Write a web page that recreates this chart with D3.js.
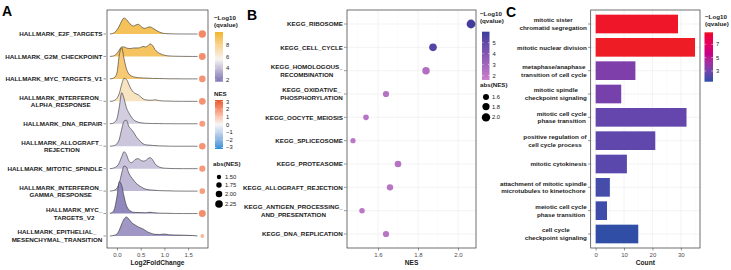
<!DOCTYPE html>
<html>
<head>
<meta charset="utf-8">
<script src="https://cdn.jsdelivr.net/npm/d3@7"></script>
<style>
body { margin: 0; background: #fff; }
svg { font-family: "Liberation Sans", Arial, sans-serif; }
.ylab { font-size: 6.25px; font-weight: bold; fill: #1a1a1a; }
.tick text { font-size: 6px; fill: #4d4d4d; }
.axt { font-size: 6.6px; font-weight: bold; fill: #1a1a1a; }
.lgt { font-size: 6.2px; font-weight: bold; fill: #1a1a1a; }
.lgl { font-size: 5.8px; fill: #1a1a1a; }
.pl { font-size: 14px; font-weight: bold; fill: #000; }
</style>
</head>
<body>
<div id="chart"></div>
<script>
// ---- panel A : hallmark ridges ----
const hallmarkTerms = ["HALLMARK_E2F_TARGETS", "HALLMARK_G2M_CHECKPOINT", "HALLMARK_MYC_TARGETS_V1",
  "HALLMARK_INTERFERON_\nALPHA_RESPONSE", "HALLMARK_DNA_REPAIR", "HALLMARK_ALLOGRAFT_\nREJECTION",
  "HALLMARK_MITOTIC_SPINDLE", "HALLMARK_INTERFERON_\nGAMMA_RESPONSE", "HALLMARK_MYC_\nTARGETS_V2",
  "HALLMARK_EPITHELIAL_\nMESENCHYMAL_TRANSITION"];
const ridgeX = [-0.15,-0.1,-0.05,0,0.05,0.1,0.15,0.2,0.25,0.3,0.35,0.4,0.45,0.5,0.55,0.6,0.65,0.7,0.75,0.8,0.9,1.0,1.1,1.2,1.4,1.6,1.7];
const densE2F = [0,0.04,0.19,0.5,1,1.63,2,1.81,1.44,1.13,1,1.13,1.21,1,0.75,0.71,0.85,0.88,0.75,0.56,0.23,0.06,0.03,0.01,0,0,0];
const densG2M = [0,0.03,0.13,0.38,0.81,1.19,1.19,1.06,1,1,1.06,1.06,1.06,1.13,1.25,1.19,1.31,1.56,1.38,0.88,0.38,0.15,0.06,0.03,0.01,0,0];
const densMycV1 = [0,0.04,0.19,0.75,3,3.88,2.5,1.25,0.63,0.38,0.25,0.19,0.15,0.13,0.11,0.1,0.09,0.08,0.06,0.06,0.04,0.03,0.01,0.01,0,0,0];
const densIfnA = [0,0.03,0.13,0.38,1,2.13,2.88,2.75,2.13,1.5,1.13,0.94,0.81,0.56,0.31,0.19,0.15,0.13,0.15,0.19,0.08,0.04,0.03,0.01,0,0,0];
const densDna = [0,0.04,0.19,0.63,2.13,3.88,3.13,2,1.38,0.88,0.5,0.31,0.19,0.13,0.09,0.06,0.05,0.04,0.03,0.03,0.02,0.01,0.01,0,0,0,0];
const densAllo = [0,0.03,0.1,0.31,0.88,2.13,3.13,3.25,2.5,2.13,1.75,1.25,0.88,0.56,0.31,0.19,0.15,0.13,0.1,0.08,0.04,0.03,0.01,0,0,0,0];
const densSpindle = [0,0.03,0.13,0.31,0.75,1.5,2.13,1.75,1,0.75,0.94,1.19,1.25,1.06,0.94,1,1.25,1.38,1.13,0.63,0.19,0.06,0.03,0.01,0,0,0];
const densIfnG = [0,0.03,0.13,0.38,1,2.25,3.13,3,2.25,1.75,1.38,1,0.75,0.56,0.38,0.25,0.19,0.15,0.13,0.1,0.06,0.04,0.03,0.01,0,0,0];
const densMycV2 = [0.03,0.13,0.63,2.13,4,3.5,2.13,1,0.5,0.25,0.16,0.13,0.13,0.13,0.11,0.1,0.13,0.16,0.13,0.09,0.05,0.04,0.03,0.01,0,0,0];
const densEmt = [0,0.03,0.1,0.25,0.75,1.5,2.13,2.38,2.13,1.75,1.5,1.31,1.13,1,0.88,0.69,0.5,0.38,0.28,0.21,0.19,0.25,0.15,0.13,0.1,0.06,0];
const ridgeDensity = [densE2F, densG2M, densMycV1, densIfnA, densDna, densAllo, densSpindle, densIfnG, densMycV2, densEmt];
const qA = [9.3, 9.1, 8.7, 6.7, 4.4, 4.2, 4.1, 3.8, 2.3, 2.8];
const nesA = [2.2, 2.1, 2.0, 2.05, 1.85, 2.0, 1.9, 1.8, 2.1, 1.35];
const nesDotX = 1.8;
const ticksA = [0, 0.5, 1, 1.5];

// ---- panel B : KEGG dots ----
const keggTerms = ["KEGG_RIBOSOME", "KEGG_CELL_CYCLE", "KEGG_HOMOLOGOUS_\nRECOMBINATION",
  "KEGG_OXIDATIVE_\nPHOSPHORYLATION", "KEGG_OOCYTE_MEIOSIS", "KEGG_SPLICEOSOME", "KEGG_PROTEASOME",
  "KEGG_ALLOGRAFT_REJECTION", "KEGG_ANTIGEN_PROCESSING_\nAND_PRESENTATION", "KEGG_DNA_REPLICATION"];
const nesB = [2.065, 1.875, 1.84, 1.64, 1.54, 1.475, 1.70, 1.66, 1.52, 1.64];
const qB = [5.8, 5.3, 2.5, 2.3, 2.2, 2.1, 2.3, 2.2, 2.1, 2.2];
const ticksB = [1.6, 1.8, 2.0];

// ---- panel C : GO bars ----
const goTerms = ["mitotic sister\nchromatid segregation", "mitotic nuclear division",
  "metaphase/anaphase\ntransition of cell cycle", "mitotic spindle\ncheckpoint signaling",
  "mitotic cell cycle\nphase transition", "positive regulation of\ncell cycle process",
  "mitotic cytokinesis", "attachment of mitotic spindle\nmicrotubules to kinetochore",
  "meiotic cell cycle\nphase transition", "cell cycle\ncheckpoint signaling"];
const goCount = [29, 35, 14, 9, 32, 21, 11, 5, 4, 15];
const qC = [8.7, 8.8, 3.3, 3.1, 2.6, 2.5, 2.4, 1.9, 1.8, 1.5];
const ticksC = [0, 10, 20, 30];

const width = 731, height = 270;
const svg = d3.select("#chart").append("svg").attr("width", width).attr("height", height);
const plotTop = 10, plotBottom = 248;

// colour / size scales
const colA = d3.scaleLinear().domain([1.7, 5.5, 10.2]).range(["#7d74b3", "#f6f4f2", "#f0b62a"]).interpolate(d3.interpolateLab);
const colNes = d3.scaleLinear().domain([-3.2, 0, 3.2]).range(["#2c8fd6", "#f7f7f7", "#e5532a"]).interpolate(d3.interpolateLab);
const sizeA = d3.scaleLinear().domain([1.5, 2.25]).range([2.2, 3.8]);
const colB = d3.scaleLinear().domain([1.6, 6.0]).range(["#c97fcb", "#3a3c9c"]).interpolate(d3.interpolateHcl);
const sizeB = d3.scaleLinear().domain([1.6, 2.0]).range([3, 4.2]);
const colC = d3.scaleLinear().domain([1.4, 8.8]).range(["#2b4ea6", "#ee1c24"]).interpolate(d3.interpolateHcl);

function yLabels(g, scale, terms, xRight) {
  terms.forEach(term => {
    const lines = term.split("\n");
    const t = g.append("text").attr("class", "ylab").attr("text-anchor", "middle");
    lines.forEach((ln, i) => t.append("tspan").attr("x", 0)
      .attr("y", (i - (lines.length - 1) / 2) * 7.6 + 2.2).text(ln));
    const w = t.node().getBBox().width;
    t.attr("transform", `translate(${xRight - w / 2},${scale(term)})`);
    g.append("line").attr("x1", xRight + 1).attr("x2", xRight + 3.5)
      .attr("y1", scale(term)).attr("y2", scale(term)).attr("stroke", "#333").attr("stroke-width", 0.5);
  });
}

function xAxis(scale, ticks, fmt, title) {
  const g = svg.append("g").attr("transform", `translate(0,${plotBottom})`)
    .call(d3.axisBottom(scale).tickValues(ticks).tickFormat(fmt).tickSize(2.5).tickPadding(2));
  g.select(".domain").remove();
  g.selectAll(".tick line").attr("stroke", "#333").attr("stroke-width", 0.5);
  const r = scale.range();
  svg.append("text").attr("class", "axt").attr("x", (r[0] + r[1]) / 2).attr("y", 265)
    .attr("text-anchor", "middle").text(title);
}

function box(scale) {
  const r = scale.range();
  svg.append("rect").attr("x", r[0]).attr("y", plotTop).attr("width", r[1] - r[0]).attr("height", plotBottom - plotTop)
    .attr("fill", "none").attr("stroke", "#333").attr("stroke-width", 0.7);
}

function grid(scale, major, minor, yScale, terms) {
  const r = scale.range();
  const g = svg.append("g");
  minor.forEach(v => g.append("line").attr("x1", scale(v)).attr("x2", scale(v)).attr("y1", plotTop).attr("y2", plotBottom)
    .attr("stroke", "#f2f2f2").attr("stroke-width", 0.4));
  major.forEach(v => g.append("line").attr("x1", scale(v)).attr("x2", scale(v)).attr("y1", plotTop).attr("y2", plotBottom)
    .attr("stroke", "#ebebeb").attr("stroke-width", 0.6));
  terms.forEach(t => g.append("line").attr("x1", r[0]).attr("x2", r[1]).attr("y1", yScale(t)).attr("y2", yScale(t))
    .attr("stroke", "#ebebeb").attr("stroke-width", 0.6));
}

function colorbar(x, y0, y1, w, scale, domain, ticks, id) {
  const grad = svg.append("defs").append("linearGradient").attr("id", id)
    .attr("x1", 0).attr("y1", 1).attr("x2", 0).attr("y2", 0);
  d3.range(0, 1.001, 0.05).forEach(t => grad.append("stop").attr("offset", t)
    .attr("stop-color", scale(domain[0] + t * (domain[1] - domain[0]))));
  svg.append("rect").attr("x", x).attr("y", y0).attr("width", w).attr("height", y1 - y0).attr("fill", `url(#${id})`);
  const pos = d3.scaleLinear().domain(domain).range([y1, y0]);
  ticks.forEach(v => {
    svg.append("line").attr("x1", x).attr("x2", x + w * 0.2).attr("y1", pos(v)).attr("y2", pos(v)).attr("stroke", "#fff").attr("stroke-width", 0.5);
    svg.append("line").attr("x1", x + w * 0.8).attr("x2", x + w).attr("y1", pos(v)).attr("y2", pos(v)).attr("stroke", "#fff").attr("stroke-width", 0.5);
    svg.append("text").attr("class", "lgl").attr("x", x + w + 3).attr("y", pos(v) + 2).text(String(v).replace("-", "\u2212"));
  });
}

function title2(x, y, l1, l2) {
  svg.append("text").attr("class", "lgt").attr("x", x).attr("y", y).text(l1);
  if (l2) svg.append("text").attr("class", "lgt").attr("x", x).attr("y", y + 7).text(l2);
}

function sizeLegend(x, y, vals, scale, fill, lx, fmt) {
  let cy = y;
  vals.forEach((v, i) => {
    if (i > 0) cy += scale(vals[i - 1]) + scale(v) + 3;
    svg.append("circle").attr("cx", x).attr("cy", cy).attr("r", scale(v)).attr("fill", fill);
    svg.append("text").attr("class", "lgl").attr("x", lx).attr("y", cy + 2).text(d3.format(fmt)(v));
  });
}

// ================= Panel A =================
const xA = d3.scaleLinear().domain([-0.21, 1.92]).range([107, 208]);
const yA = d3.scalePoint().domain(hallmarkTerms).range([34, 236]);
const hA = d3.scaleLinear().domain([0, 1]).range([0, 8]);

hallmarkTerms.forEach((term, i) => {
  const base = yA(term);
  const pts = ridgeX.map((x, j) => [x, ridgeDensity[i][j]]);
  const area = d3.area().x(d => xA(d[0])).y0(base).y1(d => base - hA(d[1])).curve(d3.curveMonotoneX);
  const line = d3.line().x(d => xA(d[0])).y(d => base - hA(d[1])).curve(d3.curveMonotoneX);
  svg.append("path").attr("d", area(pts)).attr("fill", colA(qA[i]));
  svg.append("path").attr("d", line(pts)).attr("fill", "none").attr("stroke", "#2b2b2b").attr("stroke-width", 0.6);
});
hallmarkTerms.forEach((term, i) => {
  svg.append("circle").attr("cx", xA(nesDotX)).attr("cy", yA(term)).attr("r", sizeA(nesA[i])).attr("fill", colNes(nesA[i]));
});
box(xA);
yLabels(svg.append("g"), yA, hallmarkTerms, 102.5);
xAxis(xA, ticksA, d3.format(".1f"), "Log2FoldChange");

title2(214, 20, "\u2212Log10", "(qvalue)");
colorbar(215, 32, 81.7, 8, colA, [1.7, 10.2], [2, 4, 6, 8], "gA");
title2(214, 96, "NES");
colorbar(215, 100, 149, 8, colNes, [-3.2, 3.2], [3, 2, 1, 0, -1, -2, -3], "gN");
title2(213, 166, "abs(NES)");
sizeLegend(219, 177, [1.5, 1.75, 2.0, 2.25], sizeA, "#000", 225, ".2f");

// ================= Panel B =================
const xB = d3.scaleLinear().domain([1.445, 2.09]).range([347, 476]);
const yB = d3.scalePoint().domain(keggTerms).range([plotTop, plotBottom]).padding(0.6);
grid(xB, ticksB, [1.5, 1.7, 1.9], yB, keggTerms);
box(xB);
keggTerms.forEach((term, i) => {
  svg.append("circle").attr("cx", xB(nesB[i])).attr("cy", yB(term)).attr("r", sizeB(nesB[i])).attr("fill", colB(qB[i]));
});
yLabels(svg.append("g"), yB, keggTerms, 343);
xAxis(xB, ticksB, d3.format(".1f"), "NES");

title2(480, 16, "\u2212Log10", "(qvalue)");
colorbar(482, 31.7, 80, 7.5, colB, [1.6, 6.0], [2, 3, 4, 5], "gB");
title2(480, 87, "abs(NES)");
sizeLegend(486, 97, [1.6, 1.8, 2.0], sizeB, "#000", 492, ".1f");

// ================= Panel C =================
const xC = d3.scaleLinear().domain([-1.75, 36.75]).range([590.7, 700]);
const yC = d3.scalePoint().domain(goTerms).range([plotTop, plotBottom]).padding(0.6);
grid(xC, ticksC, [5, 15, 25, 35], yC, goTerms);
const barH = yC.step() * 0.8;
goTerms.forEach((term, i) => {
  svg.append("rect").attr("x", xC(0)).attr("y", yC(term) - barH / 2).attr("width", xC(goCount[i]) - xC(0))
    .attr("height", barH).attr("fill", colC(qC[i]));
});
box(xC);
yLabels(svg.append("g"), yC, goTerms, 587);
xAxis(xC, ticksC, d3.format("d"), "Count");

title2(705, 19, "\u2212Log10", "(qvalue)");
colorbar(704.5, 32.3, 81.7, 8.5, colC, [1.4, 8.8], [3, 5, 7], "gC");

// panel letters
svg.append("text").attr("class", "pl").attr("x", 2).attr("y", 16).text("A");
svg.append("text").attr("class", "pl").attr("x", 247).attr("y", 20).text("B");
svg.append("text").attr("class", "pl").attr("x", 506).attr("y", 17).text("C");
</script>
</body>
</html>
